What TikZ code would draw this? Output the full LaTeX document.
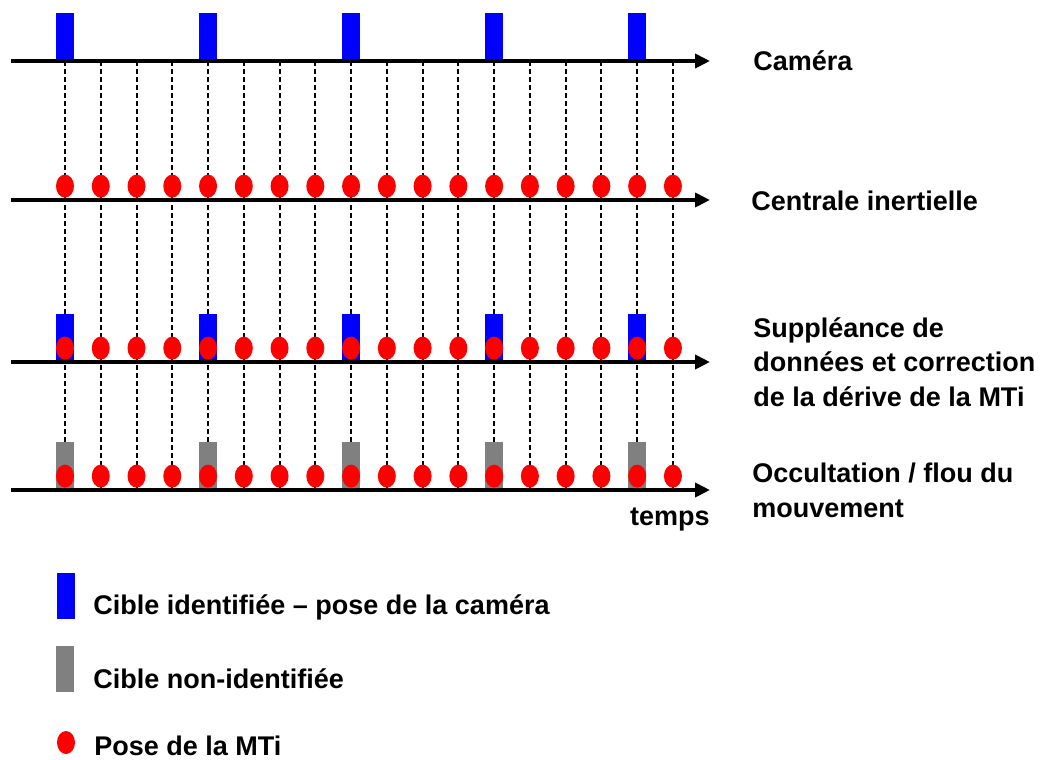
\documentclass[tikz,border=0pt]{standalone}
\usepackage{fontspec}
\setmainfont{Liberation Sans}
\usetikzlibrary{arrows.meta,shapes.geometric}
\definecolor{cam-blue}{RGB}{0,0,255}
\definecolor{lost-gray}{RGB}{128,128,128}
\definecolor{mti-red}{RGB}{255,0,0}
\tikzset{
  time-axis/.style={line width=2.25pt, -{Triangle[length=7.5pt,width=7pt]}},
  sample-tick/.style={line width=1pt, dash pattern=on 2.5pt off 1.5pt},
  cam-pose/.style={rectangle, fill=cam-blue, minimum width=9pt, minimum height=23pt,
    inner sep=0pt, anchor=south},
  lost-pose/.style={cam-pose, fill=lost-gray},
  mti-pose/.style={ellipse, fill=mti-red, minimum width=9pt, minimum height=11.5pt,
    inner sep=0pt, anchor=south},
  row-label/.style={font=\bfseries\fontsize{13.5}{17.25}\selectfont, align=left,
    inner sep=0pt, anchor=base west}
}

\begin{document}
\begin{tikzpicture}[x=0.5pt, y=-0.5pt]
  \useasboundingbox (0,0) rectangle (1044,760);
  % time axes
  \foreach \name/\ypos in {cam/61, imu/200, fused/362, occl/490} {
    \coordinate (\name-start) at (11,\ypos);
    \coordinate (\name-end) at (710,\ypos);
  }
  \foreach \name in {cam,imu,fused,occl}
    \draw[time-axis] (\name-start) -- (\name-end);
  % sampling instants
  \foreach \i in {0,...,17} {
    \coordinate (tick-\i) at ({65+35.76*\i},61);
    \coordinate (tick-\i-low) at ({65+35.76*\i},490);
    \draw[sample-tick] (tick-\i) -- (tick-\i-low);
  }
  % camera poses
  \foreach \i in {0,4,...,16} {
    \node[cam-pose, yshift=1pt] (cam-\i) at (tick-\i |- cam-start) {};
    \node[cam-pose, yshift=1pt] (fused-cam-\i) at (tick-\i |- fused-start) {};
    \node[lost-pose, yshift=1pt] (occl-cam-\i) at (tick-\i |- occl-start) {};
  }
  % MTi poses
  \foreach \i in {0,...,17} {
    \node[mti-pose, yshift=1pt] (imu-\i) at (tick-\i |- imu-start) {};
    \node[mti-pose, yshift=1pt] (fused-mti-\i) at (tick-\i |- fused-start) {};
    \node[mti-pose, yshift=1pt] (occl-mti-\i) at (tick-\i |- occl-start) {};
  }
  % row labels (base = last line)
  \node[row-label] (cam-label) at (753,70) {Caméra};
  \node[row-label] (imu-label) at (751,210) {Centrale inertielle};
  \node[row-label] (fused-label) at (753,406) {Suppléance de\\données et correction\\de la dérive de la MTi};
  \node[row-label] (occl-label) at (752,517) {Occultation / flou du\\mouvement};
  \node[row-label, anchor=base east] (time-label) at (710,525) {temps};
  % legend
  \node[cam-pose, anchor=center] (key-cam) at (66,595.5) {};
  \node[lost-pose, anchor=center] (key-lost) at (65,668.5) {};
  \node[mti-pose, anchor=center] (key-mti) at (66,742.5) {};
  \node[row-label] (key-cam-text) at (93,614) {Cible identifiée – pose de la caméra};
  \node[row-label] (key-lost-text) at (93,688) {Cible non-identifiée};
  \node[row-label] (key-mti-text) at (94,755) {Pose de la MTi};
\end{tikzpicture}
\end{document}
